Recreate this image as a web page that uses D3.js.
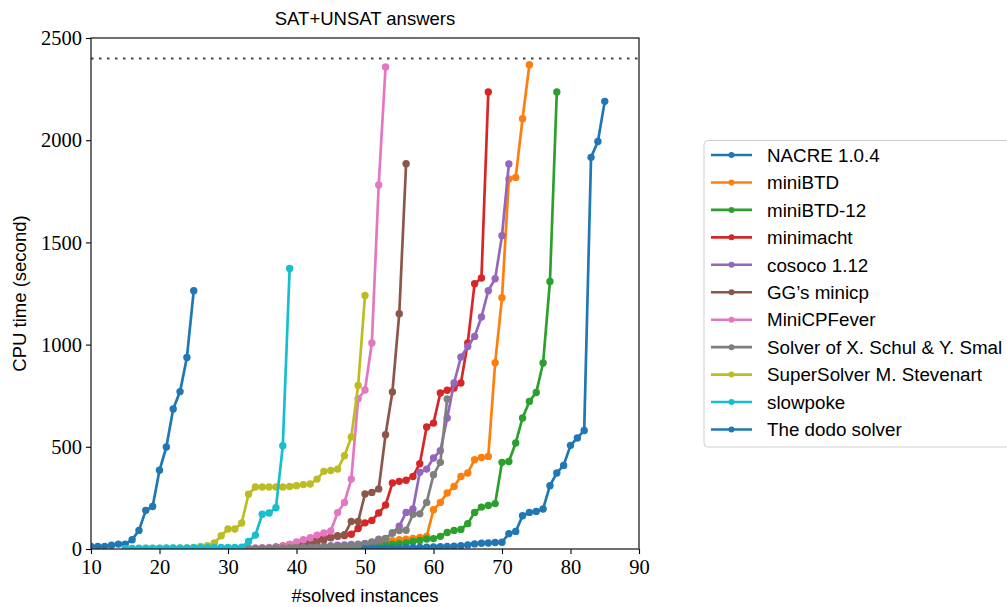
<!DOCTYPE html>
<html>
<head>
<meta charset="utf-8">
<script src="https://cdn.jsdelivr.net/npm/d3@7"></script>
<style>
html,body{margin:0;padding:0;background:#fff;}
svg{display:block;}
</style>
</head>
<body>
<svg id="chart" width="1007" height="607"></svg>
<script>
// ---- data ----
const seriesNames = ["NACRE 1.0.4","miniBTD","miniBTD-12","minimacht","cosoco 1.12","GG\u2019s minicp","MiniCPFever","Solver of X. Schul & Y. Smal","SuperSolver M. Stevenart","slowpoke","The dodo solver"];
const seriesColors = ["#1f77b4","#ff7f0e","#2ca02c","#d62728","#9467bd","#8c564b","#e377c2","#7f7f7f","#bcbd22","#17becf","#1f77b4"];
const seriesStart = [10,44,46,37,38,36,33,33,15,15,50];
const nacre = [13,13,13,18,24,24,45,91,189,208,385,499,685,770,937,1264];
const miniBTD = [3,4,5,7,9,12,15,20,25,35,40,45,48,52,57,62,192,228,274,306,355,372,437,448,453,911,1229,1810,1818,2105,2369];
const miniBTD12 = [5,7,9,11,13,15,17,20,23,26,29,37,42,49,51,62,81,91,96,124,179,205,213,222,424,428,519,641,722,766,910,1309,2236];
const minimacht = [10,15,22,30,40,50,52,55,58,62,66,72,100,128,140,176,215,323,331,336,355,417,597,616,763,777,788,812,1008,1298,1326,2236];
const cosoco = [5,6,8,10,11,12,14,16,18,20,22,24,27,32,40,50,78,111,179,196,375,391,445,481,641,812,939,991,1040,1135,1264,1322,1533,1884];
const ggMinicp = [4,6,9,12,16,22,28,35,45,55,65,70,135,135,269,277,294,559,768,1151,1885];
const miniCPFever = [5,5,6,7,8,12,22,35,45,55,68,78,88,178,228,342,735,778,1008,1781,2358];
const schulSmal = [3,3,4,4,5,5,6,6,7,8,9,10,11,12,14,16,19,25,35,48,52,78,90,92,170,172,228,363,424,734];
const superSolver = [2,2,2,3,3,3,3,4,4,5,8,13,16,29,65,98,98,127,268,303,303,303,303,303,306,310,315,318,342,380,384,391,456,548,800,1240];
const slowpoke = [3,3,4,4,4,4,5,5,5,5,6,6,6,7,7,8,8,9,37,68,170,176,202,505,1372];
const dodo = [2,3,3,4,4,5,6,7,8,9,10,11,12,14,16,20,25,28,29,32,33,75,86,163,179,184,196,310,372,409,507,543,580,1916,1994,2190];
const seriesValues = [nacre,miniBTD,miniBTD12,minimacht,cosoco,ggMinicp,miniCPFever,schulSmal,superSolver,slowpoke,dodo];
const xTicks = [10,20,30,40,50,60,70,80,90];
const yTicks = [0,500,1000,1500,2000,2500];
const timeLimit = 2400;
const titleText = "SAT+UNSAT answers";
const xLabel = "#solved instances";
const yLabel = "CPU time (second)";

// ---- layout ----
const L = 91, R = 639, T = 38, B = 549;
const svg = d3.select("#chart");
const x = d3.scaleLinear().domain([10,90]).range([L,R]);
const y = d3.scaleLinear().domain([0,2500]).range([B,T]);

svg.append("defs").append("clipPath").attr("id","clip")
  .append("rect").attr("x",L).attr("y",T).attr("width",R-L).attr("height",B-T);

const plot = svg.append("g").attr("clip-path","url(#clip)");

// time-limit dotted line
plot.append("line")
  .attr("x1",L).attr("x2",R).attr("y1",y(timeLimit)).attr("y2",y(timeLimit))
  .attr("stroke","#404040").attr("stroke-width",2).attr("stroke-dasharray","2.5,5.5");

const line = d3.line().x(d=>x(d[0])).y(d=>y(d[1]));
seriesValues.forEach((vals,i)=>{
  const pts = vals.map((v,j)=>[seriesStart[i]+j, v]);
  const g = plot.append("g");
  g.append("path").datum(pts).attr("d",line)
    .attr("fill","none").attr("stroke",seriesColors[i]).attr("stroke-width",2.7)
    .attr("stroke-linejoin","round");
  g.selectAll("circle").data(pts).enter().append("circle")
    .attr("cx",d=>x(d[0])).attr("cy",d=>y(d[1])).attr("r",3.7)
    .attr("fill",seriesColors[i]);
});

// axes
const fontTick = "'Liberation Serif','DejaVu Serif',serif";
const fontSans = "'Liberation Sans',Arial,Helvetica,sans-serif";
const xAxis = svg.append("g").attr("transform",`translate(0,${B})`)
  .call(d3.axisBottom(x).tickValues(xTicks).tickFormat(d3.format("d")).tickSize(5).tickSizeOuter(0));
const yAxis = svg.append("g").attr("transform",`translate(${L},0)`)
  .call(d3.axisLeft(y).tickValues(yTicks).tickFormat(d3.format("d")).tickSize(5).tickSizeOuter(0));
[xAxis,yAxis].forEach(a=>{
  a.select(".domain").remove();
  a.selectAll(".tick line").attr("stroke","#000").attr("stroke-width",1.1);
  a.selectAll("text").attr("font-family",fontTick).attr("font-size",20.5).attr("fill","#000");
});
xAxis.selectAll("text").attr("dy","0.95em").attr("y",6);
yAxis.selectAll("text").attr("x",-9).attr("dy","0.33em");

// frame
svg.append("rect").attr("x",L).attr("y",T).attr("width",R-L).attr("height",B-T)
  .attr("fill","none").attr("stroke","#222").attr("stroke-width",1.3);

// labels
svg.append("text").attr("x",(L+R)/2).attr("y",25).attr("text-anchor","middle")
  .attr("font-family",fontSans).attr("font-size",18.5).text(titleText);
svg.append("text").attr("x",(L+R)/2).attr("y",602).attr("text-anchor","middle")
  .attr("font-family",fontSans).attr("font-size",18.5).text(xLabel);
svg.append("text").attr("transform",`translate(26,${(T+B)/2}) rotate(-90)`).attr("text-anchor","middle")
  .attr("font-family",fontSans).attr("font-size",18.5).text(yLabel);

// legend
const lg = svg.append("g");
lg.append("rect").attr("x",704).attr("y",140.5).attr("width",320).attr("height",306.5)
  .attr("rx",4).attr("fill","#fff").attr("stroke","#d0d0d0").attr("stroke-width",1);
seriesNames.forEach((n,i)=>{
  const cy = 155 + i*27.45;
  lg.append("line").attr("x1",711).attr("x2",752).attr("y1",cy).attr("y2",cy)
    .attr("stroke",seriesColors[i]).attr("stroke-width",2.6);
  lg.append("circle").attr("cx",731.5).attr("cy",cy).attr("r",3).attr("fill",seriesColors[i]);
  lg.append("text").attr("x",767).attr("y",cy).attr("dy","0.36em")
    .attr("font-family",fontSans).attr("font-size",18.8).attr("fill","#000").text(n);
});
</script>
</body>
</html>
